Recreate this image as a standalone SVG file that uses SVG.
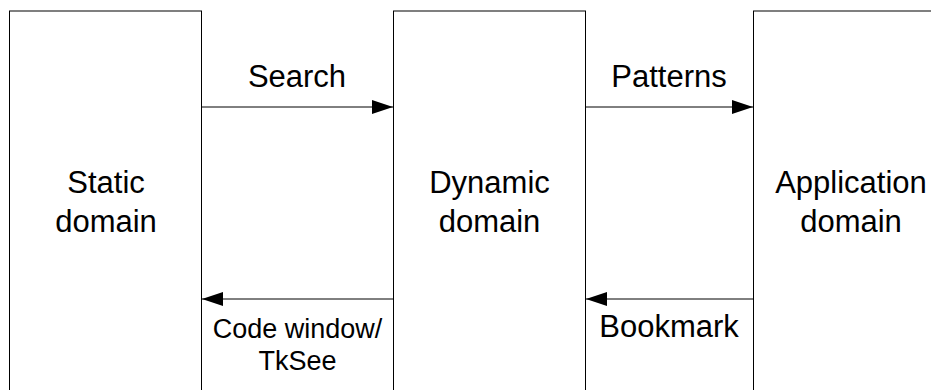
<svg xmlns="http://www.w3.org/2000/svg" width="931" height="390" viewBox="0 0 931 390">
  <style>
    .box { fill: #ffffff; stroke: #000000; stroke-width: 1; }
    .lbl { font-family: "Liberation Sans", Arial, sans-serif; font-size: 31px; fill: #000000; text-anchor: middle; }
    .small { font-size: 27px; }
    .conn { stroke: #000000; stroke-width: 1; fill: none; }
  </style>
  <defs>
    <marker id="arrow" markerUnits="userSpaceOnUse" markerWidth="22" markerHeight="14" refX="21" refY="7" orient="auto">
      <path d="M0,0 L21,7 L0,14 z" fill="#000000"/>
    </marker>
  </defs>
  <rect x="0" y="0" width="931" height="390" fill="#ffffff"/>

  <g id="static-domain">
    <rect class="box" x="9.5" y="11" width="192" height="400"/>
    <text class="lbl" x="106" y="193">Static</text>
    <text class="lbl" x="106" y="231.5">domain</text>
  </g>

  <g id="dynamic-domain">
    <rect class="box" x="393.5" y="11" width="192" height="400"/>
    <text class="lbl" x="489.5" y="193">Dynamic</text>
    <text class="lbl" x="489.5" y="231.5">domain</text>
  </g>

  <g id="application-domain">
    <rect class="box" x="753.5" y="11" width="193" height="400"/>
    <text class="lbl" x="851" y="193">Application</text>
    <text class="lbl" x="851" y="231.5">domain</text>
  </g>

  <g id="connectors">
    <line class="conn" x1="202" y1="107" x2="393" y2="107" marker-end="url(#arrow)"/>
    <text class="lbl" x="297" y="87">Search</text>

    <line class="conn" x1="586" y1="107" x2="753" y2="107" marker-end="url(#arrow)"/>
    <text class="lbl" x="669" y="87">Patterns</text>

    <line class="conn" x1="393" y1="299" x2="202" y2="299" marker-end="url(#arrow)"/>
    <text class="lbl small" x="297.5" y="338">Code window/</text>
    <text class="lbl small" x="297.5" y="370">TkSee</text>

    <line class="conn" x1="753" y1="299" x2="586" y2="299" marker-end="url(#arrow)"/>
    <text class="lbl" x="669" y="337">Bookmark</text>
  </g>
</svg>
